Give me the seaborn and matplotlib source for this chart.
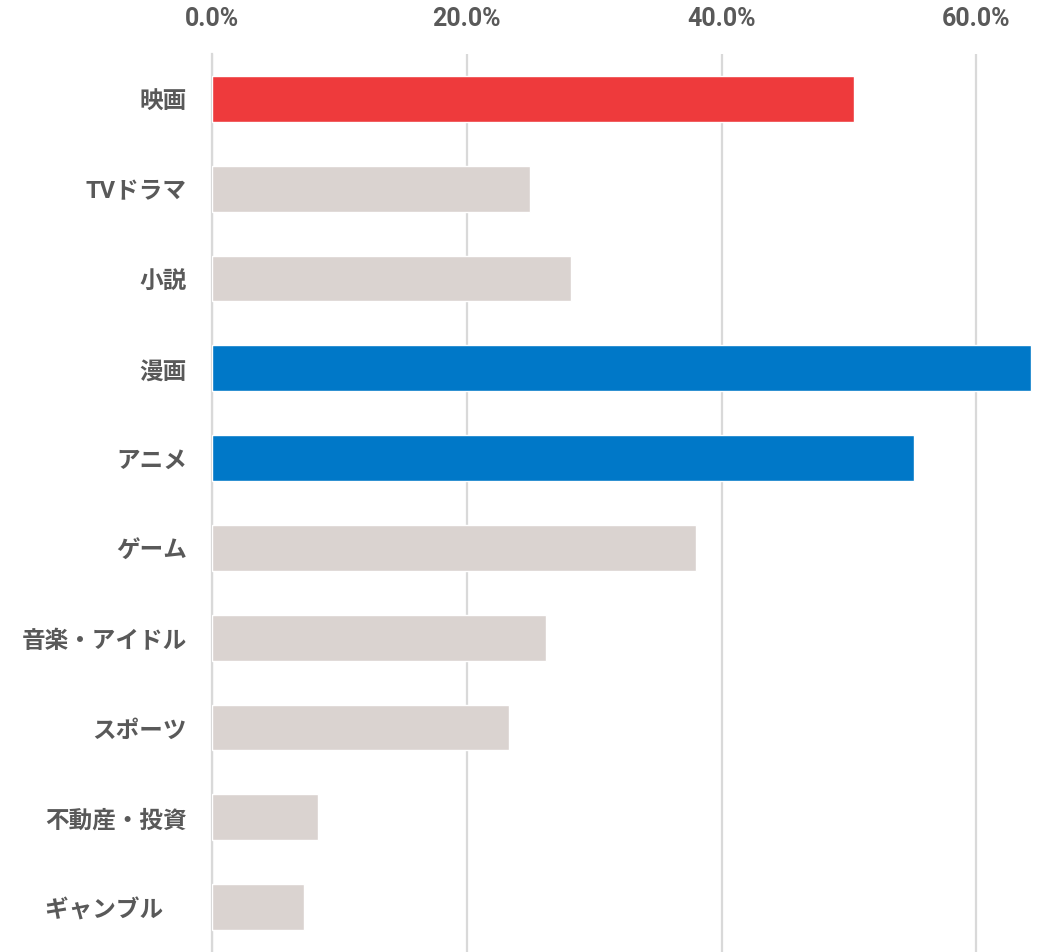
import matplotlib
matplotlib.use("Agg")
import matplotlib.pyplot as plt
import pandas as pd
import seaborn as sns
from matplotlib.ticker import FuncFormatter

categories = ["映画", "TVドラマ", "小説", "漫画", "アニメ", "ゲーム",
              "音楽・アイドル", "スポーツ", "不動産・投資", "ギャンブル　"]
values = [50.4, 25.0, 28.2, 64.3, 55.1, 38.0, 26.2, 23.3, 8.3, 7.2]
highlight = {"映画": "#EE3A3C", "漫画": "#0078C8", "アニメ": "#0078C8"}
x_ticks = [0, 20, 40, 60]

GRAY_BAR = "#DAD3D0"
TEXT = "#595959"
GRID = "#D9D9D9"

sns.set_theme(style="white")
plt.rcParams["font.family"] = ["Roboto", "Noto Sans CJK JP", "DejaVu Sans"]

df = pd.DataFrame({"category": categories, "value": values})
palette = {c: highlight.get(c, GRAY_BAR) for c in categories}

fig = plt.figure(figsize=(10.37, 9.53), dpi=100)
ax = fig.add_axes([212 / 1037, 0, (1035 - 212) / 1037, (953 - 55) / 953])

sns.barplot(data=df, x="value", y="category", hue="category", palette=palette,
            legend=False, width=0.51, saturation=1, ax=ax, zorder=3)

ax.set_xlim(0, 64.6)
ax.set_ylim(9.5, -0.5)
ax.set_xticks(x_ticks)
ax.xaxis.set_major_formatter(FuncFormatter(lambda v, _: f"{v:.1f}%"))
ax.xaxis.tick_top()
ax.grid(axis="x", color=GRID, linewidth=1.6, zorder=0)
ax.grid(axis="y", visible=False)
for side in ["top", "right", "bottom"]:
    ax.spines[side].set_visible(False)
ax.spines["left"].set_color(GRID)
ax.spines["left"].set_linewidth(1.6)
ax.set_xlabel("")
ax.set_ylabel("")
ax.tick_params(axis="x", length=0, pad=17, labelsize=18, labelcolor=TEXT)
ax.tick_params(axis="y", length=0, pad=18, labelsize=17, labelcolor=TEXT)
for lab in ax.get_xticklabels() + ax.get_yticklabels():
    lab.set_fontweight("bold")

fig.savefig("out.png", dpi=100)
